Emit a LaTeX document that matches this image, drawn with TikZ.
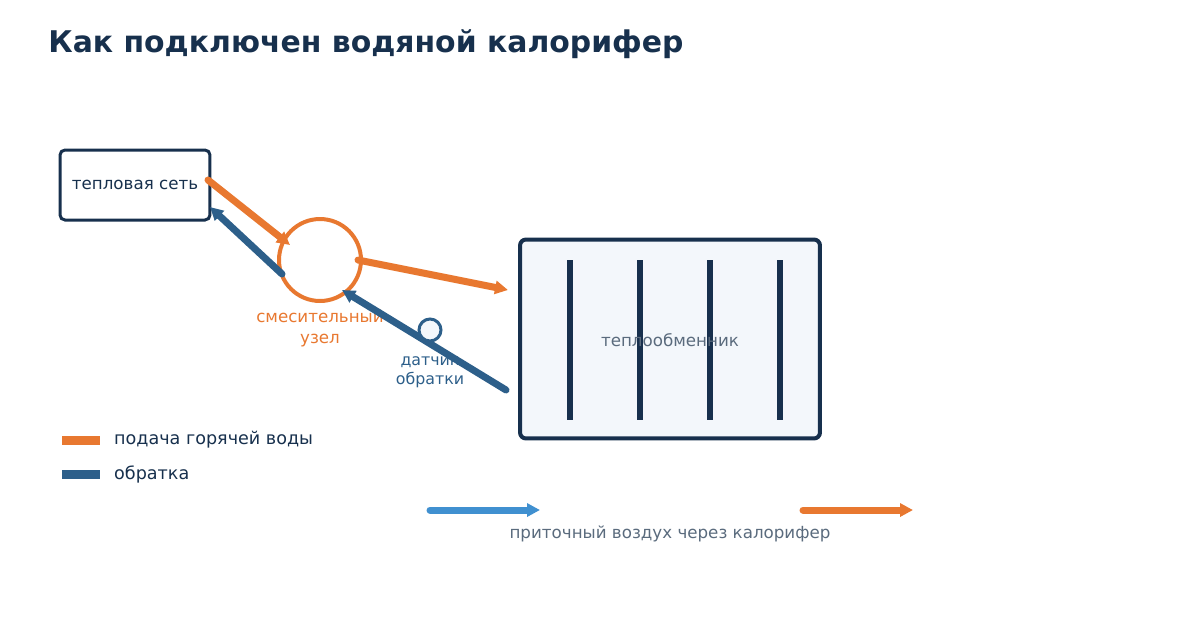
\documentclass[tikz,border=0pt]{standalone}
\usepackage{fontspec}
\setmainfont{DejaVu Sans}
\usetikzlibrary{positioning,arrows.meta}
\definecolor{navy}{HTML}{17304D}
\definecolor{hot}{HTML}{E87830}
\definecolor{ret}{HTML}{2D5F8A}
\definecolor{air}{HTML}{4090D0}
\definecolor{txtgray}{HTML}{5A6B7D}
\definecolor{hxfill}{HTML}{F3F7FB}

\begin{document}
\begin{tikzpicture}[
  x=0.02cm, y=-0.02cm,
  pipe/.style={line width=0.14cm, line cap=round, -{Triangle[length=0.26cm,width=0.26cm]}},
  lbl/.style={font=\fontsize{9.5}{11.5}\selectfont, align=center},
  legline/.style={line width=0.18cm}
]
\useasboundingbox (0,0) rectangle (1200,620);

% Title
\node[anchor=west, inner sep=0pt, text=navy, font=\bfseries\fontsize{17}{20}\selectfont] (title) at (48,44) {Как подключен водяной калорифер};

% Heat network
\node[draw=navy, line width=0.06cm, rounded corners=0.1cm, minimum width=3.0cm, minimum height=1.4cm, lbl, text=navy] (net) at (135,185) {тепловая сеть};

% Mixing unit
\node[circle, draw=hot, line width=0.08cm, minimum size=1.64cm] (mix) at (320,260) {};
\node[lbl, text=hot, below=0.02cm of mix] (mixlbl) {смесительный\\узел};

% Heat exchanger
\node[draw=navy, fill=hxfill, line width=0.08cm, rounded corners=0.12cm, minimum width=6.0cm, minimum height=3.98cm] (hx) at (670,339) {};
\foreach \x in {570,640,710,780}
  \draw[navy, line width=0.12cm] (\x,260) -- (\x,420);
\node[lbl, text=txtgray] (hxlbl) at (670,340) {теплообменник};

% Sensor
\coordinate (retA) at (506,390);
\coordinate (retB) at (342,290);
\draw[pipe, ret] (retA) -- (retB);
\node[circle, draw=ret, fill=hxfill, line width=0.06cm, minimum size=0.44cm, inner sep=0pt] (sens) at (430,330) {};
\node[lbl, text=ret, font=\fontsize{9}{11}\selectfont] (senslbl) at (430,372) {датчик\\обратки};

% Pipes
\coordinate (hotA) at (208,180);
\coordinate (hotB) at (290,245);
\coordinate (hotC) at (358,260);
\coordinate (hotD) at (508,290);
\coordinate (retC) at (282,274);
\coordinate (retD) at (210,207);
\draw[pipe, hot] (hotA) -- (hotB);
\draw[pipe, ret] (retC) -- (retD);
\draw[pipe, hot] (hotC) -- (hotD);

% Legend
\draw[legline, hot] (62,440) -- (100,440);
\node[lbl, text=navy, anchor=west, font=\fontsize{10}{12}\selectfont] (leghot) at (108,440) {подача горячей воды};
\draw[legline, ret] (62,474) -- (100,474);
\node[lbl, text=navy, anchor=west, font=\fontsize{10}{12}\selectfont] (legret) at (108,474) {обратка};

% Supply air
\coordinate (airA) at (430,510);
\coordinate (airB) at (540,510);
\coordinate (airC) at (803,510);
\coordinate (airD) at (913,510);
\draw[pipe, air] (airA) -- (airB);
\draw[pipe, hot] (airC) -- (airD);
\node[lbl, text=txtgray] (airlbl) at (670,534) {приточный воздух через калорифер};
\end{tikzpicture}
\end{document}
